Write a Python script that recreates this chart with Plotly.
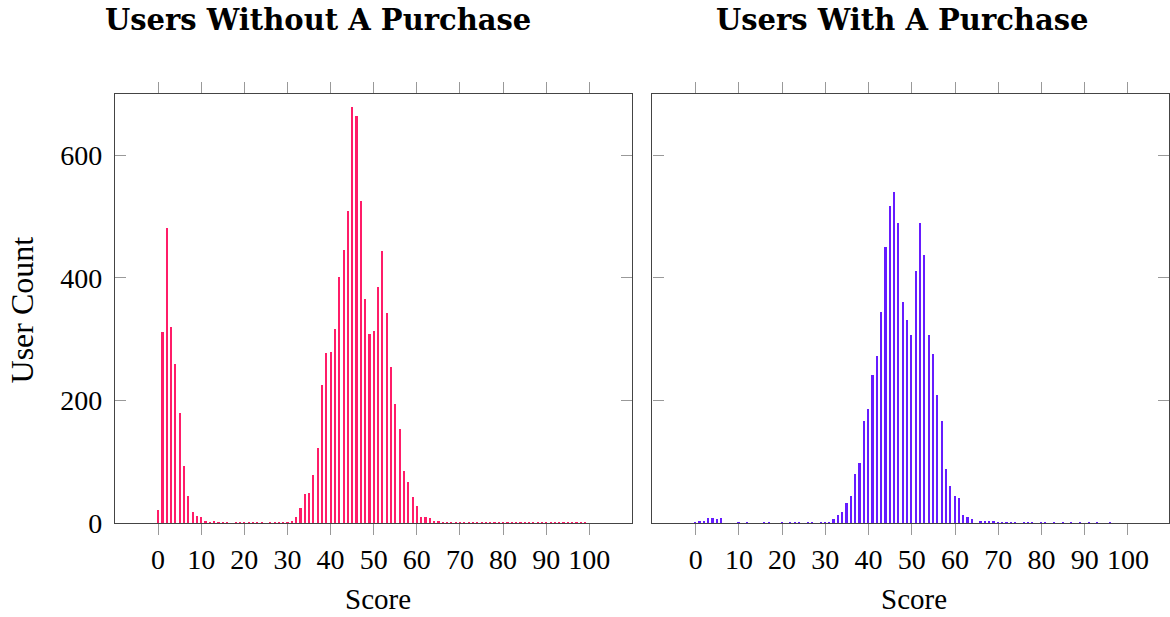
import plotly.graph_objects as go

scores = list(range(0, 101))

without_purchase = [
    21, 312, 482, 320, 260, 180, 93, 44, 18, 12,
    11, 3, 2, 3, 1, 1, 1, 0, 1, 1,
    1, 1, 1, 1, 1, 0, 1, 1, 1, 1,
    1, 4, 10, 25, 47, 49, 79, 123, 226, 278,
    280, 316, 401, 445, 509, 678, 664, 525, 365, 309,
    314, 385, 444, 343, 255, 194, 154, 85, 67, 43,
    28, 11, 10, 8, 3, 3, 1, 1, 1, 1,
    1, 1, 1, 1, 1, 1, 1, 1, 1, 1,
    1, 1, 1, 1, 1, 1, 1, 1, 1, 1,
    1, 1, 1, 1, 1, 1, 1, 1, 1, 1,
    0,
]

with_purchase = [
    1, 3, 4, 8, 9, 7, 8, 0, 0, 0,
    2, 0, 1, 0, 0, 0, 1, 2, 0, 0,
    1, 0, 1, 2, 1, 0, 1, 1, 0, 1,
    1, 2, 7, 14, 18, 33, 44, 81, 99, 167,
    186, 241, 272, 344, 451, 517, 541, 489, 361, 331,
    307, 411, 490, 437, 307, 276, 210, 166, 89, 60,
    44, 41, 13, 11, 7, 0, 4, 4, 3, 4,
    2, 2, 2, 1, 2, 0, 2, 1, 1, 0,
    1, 1, 0, 1, 0, 1, 0, 1, 0, 1,
    0, 1, 0, 1, 0, 0, 1, 0, 0, 0,
    0,
]

x_ticks = list(range(0, 101, 10))
y_ticks = [0, 200, 400, 600]

titles = ["Users Without A Purchase", "Users With A Purchase"]
x_label = "Score"
y_label = "User Count"

PINK = "rgb(255,28,104)"
PURPLE = "rgb(102,28,255)"
FONT = "Liberation Serif"
TITLE_FONT = "DejaVu Serif"

W, H = 1170, 617
VK = 617.0 / 602.0  # vertical compensation observed in rendering

def px(x):
    return x / W

def py(y):
    return max(0.0, 1 - (y * VK) / H)

fig = go.Figure()
fig.add_trace(go.Bar(x=scores, y=without_purchase, width=0.5,
                     marker=dict(color=PINK, line=dict(width=0)),
                     xaxis="x", yaxis="y", showlegend=False))
fig.add_trace(go.Bar(x=scores, y=with_purchase, width=0.5,
                     marker=dict(color=PURPLE, line=dict(width=0)),
                     xaxis="x2", yaxis="y2", showlegend=False))

common_x = dict(
    tickvals=x_ticks, ticktext=[str(v) for v in x_ticks],
    ticks="outside", ticklen=11, tickwidth=1.2, tickcolor="#999999",
    showline=True, linecolor="#444444", linewidth=1.3, mirror="ticks",
    showgrid=False, zeroline=False,
    tickfont=dict(family=FONT, size=28, color="black"),
)
common_y = dict(
    range=[0, 700], tickvals=y_ticks,
    ticks="inside", ticklen=11, tickwidth=1.2, tickcolor="#999999",
    showline=True, linecolor="#444444", linewidth=1.3, mirror="ticks",
    showgrid=False, zeroline=False,
    tickfont=dict(family=FONT, size=28, color="black"),
)

fig.update_layout(
    width=W, height=H,
    margin=dict(l=0, r=0, t=0, b=0),
    paper_bgcolor="white", plot_bgcolor="white",
    bargap=0,
    xaxis=dict(domain=[px(115), px(633)], range=[-10, 110], anchor="y", **common_x),
    yaxis=dict(domain=[py(524), py(94)], anchor="x", ticklabelstandoff=6,
               ticktext=[str(v) for v in y_ticks], **common_y),
    xaxis2=dict(domain=[px(653), 1.0], range=[-10, 109.5], anchor="y2", **common_x),
    yaxis2=dict(domain=[py(524), py(94)], anchor="x2", showticklabels=False, **common_y),
    annotations=[
        dict(text="<b>%s</b>" % titles[0], x=px(318), y=py(20), xref="paper", yref="paper",
             xanchor="center", yanchor="middle", showarrow=False,
             font=dict(family=TITLE_FONT, size=29, color="black")),
        dict(text="<b>%s</b>" % titles[1], x=px(903), y=py(20), xref="paper", yref="paper",
             xanchor="center", yanchor="middle", showarrow=False,
             font=dict(family=TITLE_FONT, size=29, color="black")),
        dict(text=x_label, x=px(378), y=py(600), xref="paper", yref="paper",
             xanchor="center", yanchor="middle", showarrow=False,
             font=dict(family=FONT, size=29, color="black")),
        dict(text=x_label, x=px(915), y=py(600), xref="paper", yref="paper",
             xanchor="center", yanchor="middle", showarrow=False,
             font=dict(family=FONT, size=29, color="black")),
        dict(text=y_label, x=px(23), y=py(310), xref="paper", yref="paper",
             xanchor="center", yanchor="middle", showarrow=False, textangle=-90,
             font=dict(family=FONT, size=32, color="black")),
    ],
)

fig.write_html("out.html")
